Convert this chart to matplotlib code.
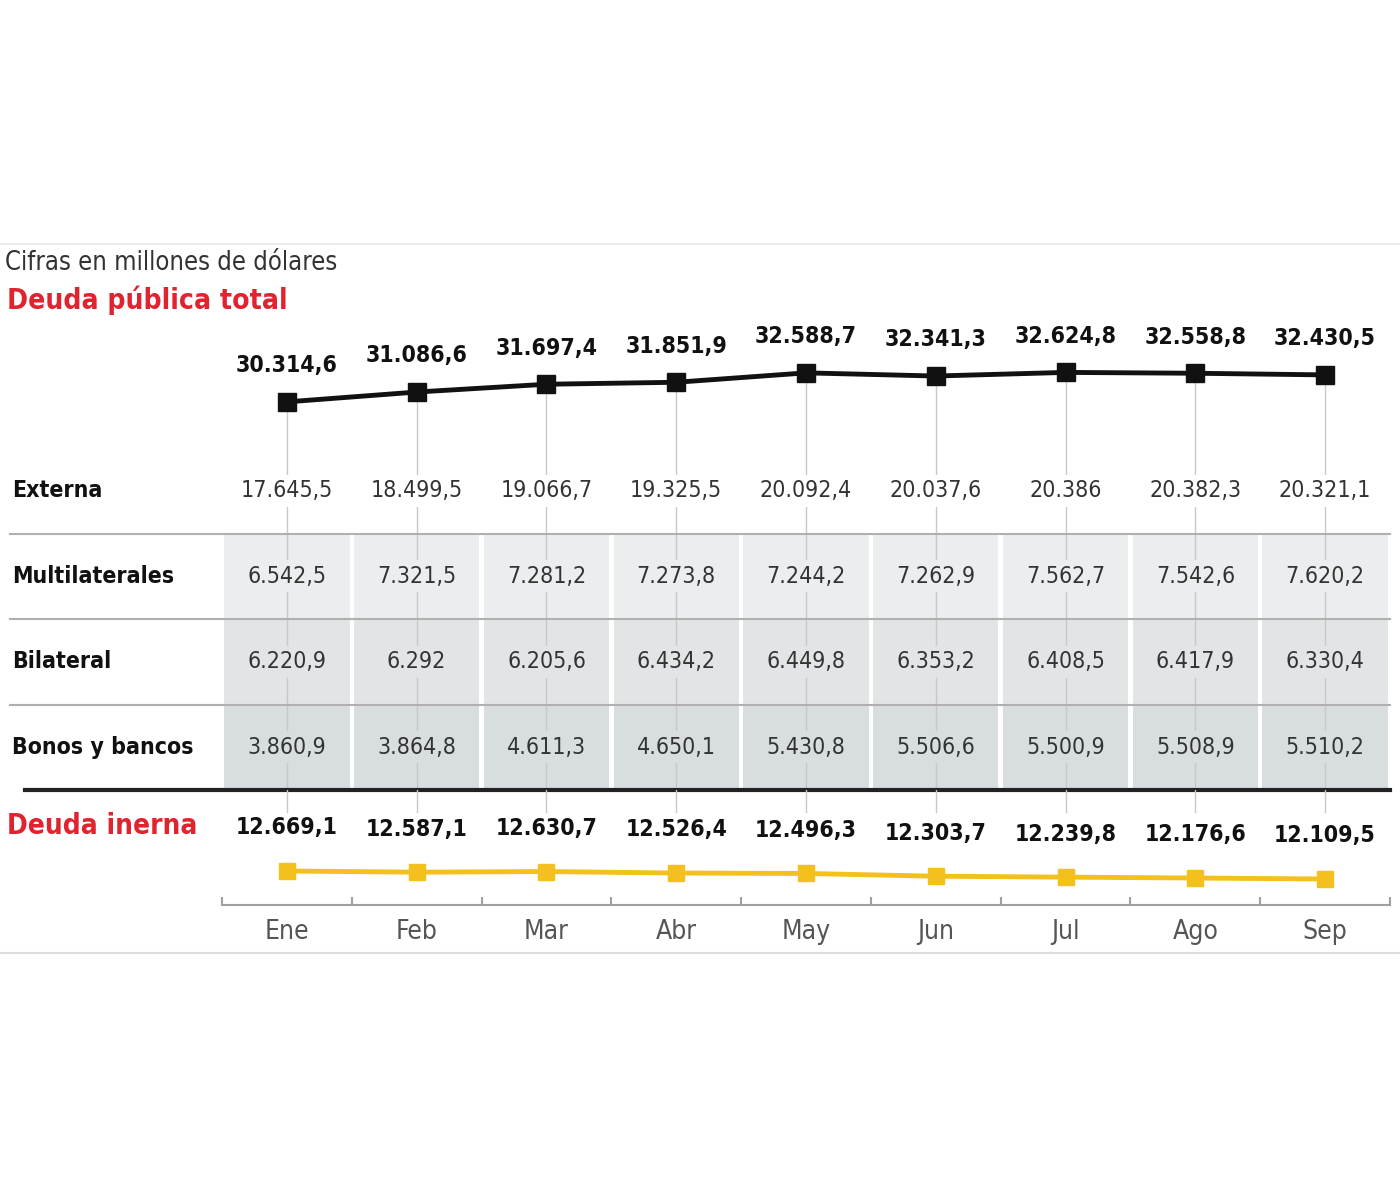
import matplotlib
matplotlib.use('Agg')
import matplotlib.pyplot as plt
from matplotlib import font_manager
from matplotlib.transforms import blended_transform_factory
from matplotlib.lines import Line2D

months = ['Ene', 'Feb', 'Mar', 'Abr', 'May', 'Jun', 'Jul', 'Ago', 'Sep']
total = [30314.6, 31086.6, 31697.4, 31851.9, 32588.7, 32341.3, 32624.8, 32558.8, 32430.5]
externa = [17645.5, 18499.5, 19066.7, 19325.5, 20092.4, 20037.6, 20386, 20382.3, 20321.1]
multilaterales = [6542.5, 7321.5, 7281.2, 7273.8, 7244.2, 7262.9, 7562.7, 7542.6, 7620.2]
bilateral = [6220.9, 6292, 6205.6, 6434.2, 6449.8, 6353.2, 6408.5, 6417.9, 6330.4]
bonos = [3860.9, 3864.8, 4611.3, 4650.1, 5430.8, 5506.6, 5500.9, 5508.9, 5510.2]
interna = [12669.1, 12587.1, 12630.7, 12526.4, 12496.3, 12303.7, 12239.8, 12176.6, 12109.5]

row_names = ['Externa', 'Multilaterales', 'Bilateral', 'Bonos y bancos']
rows = [externa, multilaterales, bilateral, bonos]
row_colors = ['white', '#eaeeef', '#e1e5e6', '#d8dddf']

# narrowest installed family
ttf = font_manager.fontManager.ttflist
names = {f.name for f in ttf}
if 'Liberation Sans Narrow' in names:
    plt.rcParams['font.family'] = ['Liberation Sans Narrow', 'DejaVu Sans']
elif any(f.name == 'DejaVu Sans' and f.stretch == 'condensed' for f in ttf):
    plt.rcParams['font.family'] = ['DejaVu Sans']
    plt.rcParams['font.stretch'] = 'condensed'
else:
    plt.rcParams['font.family'] = ['Liberation Sans', 'DejaVu Sans']


def fmt(v):
    # formato espanol: punto de miles, coma decimal
    s = '{:,.1f}'.format(v)
    s = s.replace(',', 'X').replace('.', ',').replace('X', '.')
    if s.endswith(',0'):
        s = s[:-2]
    return s


RED = '#e0232e'
GUIDE = '#c8c8c8'
x = list(range(len(months)))

fig = plt.figure(figsize=(14, 12), dpi=100)
fig.patch.set_facecolor('white')
renderer = fig.canvas.get_renderer()


def fit(sample, target_px, weight='normal', base=20):
    t = fig.text(0, 0, sample, fontsize=base, fontweight=weight)
    w = t.get_window_extent(renderer).width
    t.remove()
    return base * target_px / w


fs_cifras = fit('Cifras en millones de dólares', 333)
fs_title = fit('Deuda pública total', 280, 'bold')
fs_title2 = fit('Deuda inerna', 190, 'bold')
fs_big = fit('30.314,6', 102, 'bold')
fs_cell = fit('17.645,5', 92)
fs_row = fit('Bonos y bancos', 181, 'bold')
fs_month = fit('May', 49)

L, W = 222 / 1400, 1168 / 1400
ax_top = fig.add_axes([L, 1 - 448 / 1200, W, 148 / 1200])
ax_tab = fig.add_axes([L, 1 - 790 / 1200, W, 342 / 1200])
ax_bot = fig.add_axes([L, 1 - 905 / 1200, W, 115 / 1200])

for ax in (ax_top, ax_tab, ax_bot):
    ax.set_xlim(-0.5, 8.5)
    ax.patch.set_alpha(0)
    for s in ax.spines.values():
        s.set_visible(False)
    ax.set_yticks([])
    ax.set_xticks([])

# faint frame lines
fig.add_artist(Line2D([0, 1], [1 - 244 / 1200] * 2, color='#ececec', lw=1.5))
fig.add_artist(Line2D([0, 1], [1 - 953 / 1200] * 2, color='#dcdcdc', lw=1.5))

fig.text(5 / 1400, 1 - 263 / 1200, 'Cifras en millones de dólares', fontsize=fs_cifras,
         color='#333333', va='center', ha='left')
fig.text(7 / 1400, 1 - 300 / 1200, 'Deuda pública total', fontsize=fs_title,
         color=RED, fontweight='bold', va='center', ha='left')

# deuda total
ax_top.set_ylim(26700, 38300)
ax_top.vlines(x, 26700, total, color=GUIDE, lw=1, zorder=1)
ax_top.plot(x, total, color='#111111', lw=3.5, marker='s', markersize=12.5, zorder=3)
for xi, v in zip(x, total):
    ax_top.annotate(fmt(v), (xi, v), xytext=(0, 26), textcoords='offset points',
                    ha='center', va='center', fontsize=fs_big, fontweight='bold', color='#111111')

# tabla
ax_tab.set_ylim(3.5, -0.5)
for xi in x:
    ax_tab.axvline(xi, color=GUIDE, lw=1, zorder=1)
for r in range(1, 4):
    ax_tab.bar(x, 1, bottom=r - 0.5, width=0.965, color=row_colors[r], zorder=0)
for yb in (0.5, 1.5, 2.5):
    ax_tab.axhline(yb, xmin=-0.1815, xmax=1, color='#b0b0b0', lw=1.5, clip_on=False, zorder=2)
ax_tab.axhline(3.5, xmin=-0.1687, xmax=1, color='#222222', lw=3, clip_on=False, zorder=4)

lab_tr = blended_transform_factory(fig.transFigure, ax_tab.transData)
for r, (name, vals) in enumerate(zip(row_names, rows)):
    ax_tab.text(12 / 1400, r, name, transform=lab_tr, fontsize=fs_row, fontweight='bold',
                color='#111111', ha='left', va='center')
    for xi, v in zip(x, vals):
        ax_tab.text(xi, r, fmt(v), fontsize=fs_cell, color='#333333', ha='center', va='center',
                    zorder=3, bbox=dict(boxstyle='square,pad=0.2', fc=row_colors[r], ec='none'))

# deuda interna
fig.text(7 / 1400, 1 - 826 / 1200, 'Deuda inerna', fontsize=fs_title2,
         color=RED, fontweight='bold', va='center', ha='left')
ax_bot.set_ylim(10289, 18339)
for xi in x:
    ax_bot.axvline(xi, ymin=(905 - 812) / 115, ymax=1, color=GUIDE, lw=1, zorder=1)
ax_bot.plot(x, interna, color='#f4c01e', lw=3.5, marker='s', markersize=12, zorder=3)
for xi, v in zip(x, interna):
    ax_bot.annotate(fmt(v), (xi, v), xytext=(0, 31), textcoords='offset points',
                    ha='center', va='center', fontsize=fs_big, fontweight='bold', color='#111111')

ax_bot.spines['bottom'].set_visible(True)
ax_bot.spines['bottom'].set_color('#a0a0a0')
ax_bot.spines['bottom'].set_linewidth(1.5)
ax_bot.set_xticks(x)
ax_bot.set_xticklabels(months, fontsize=fs_month, color='#555555')
ax_bot.set_xticks([i - 0.5 for i in range(len(months) + 1)], minor=True)
ax_bot.tick_params(axis='x', which='major', length=0, pad=10)
ax_bot.tick_params(axis='x', which='minor', direction='in', length=6, width=1.5, color='#a0a0a0')

fig.savefig('out.png', dpi=100, facecolor='white')
